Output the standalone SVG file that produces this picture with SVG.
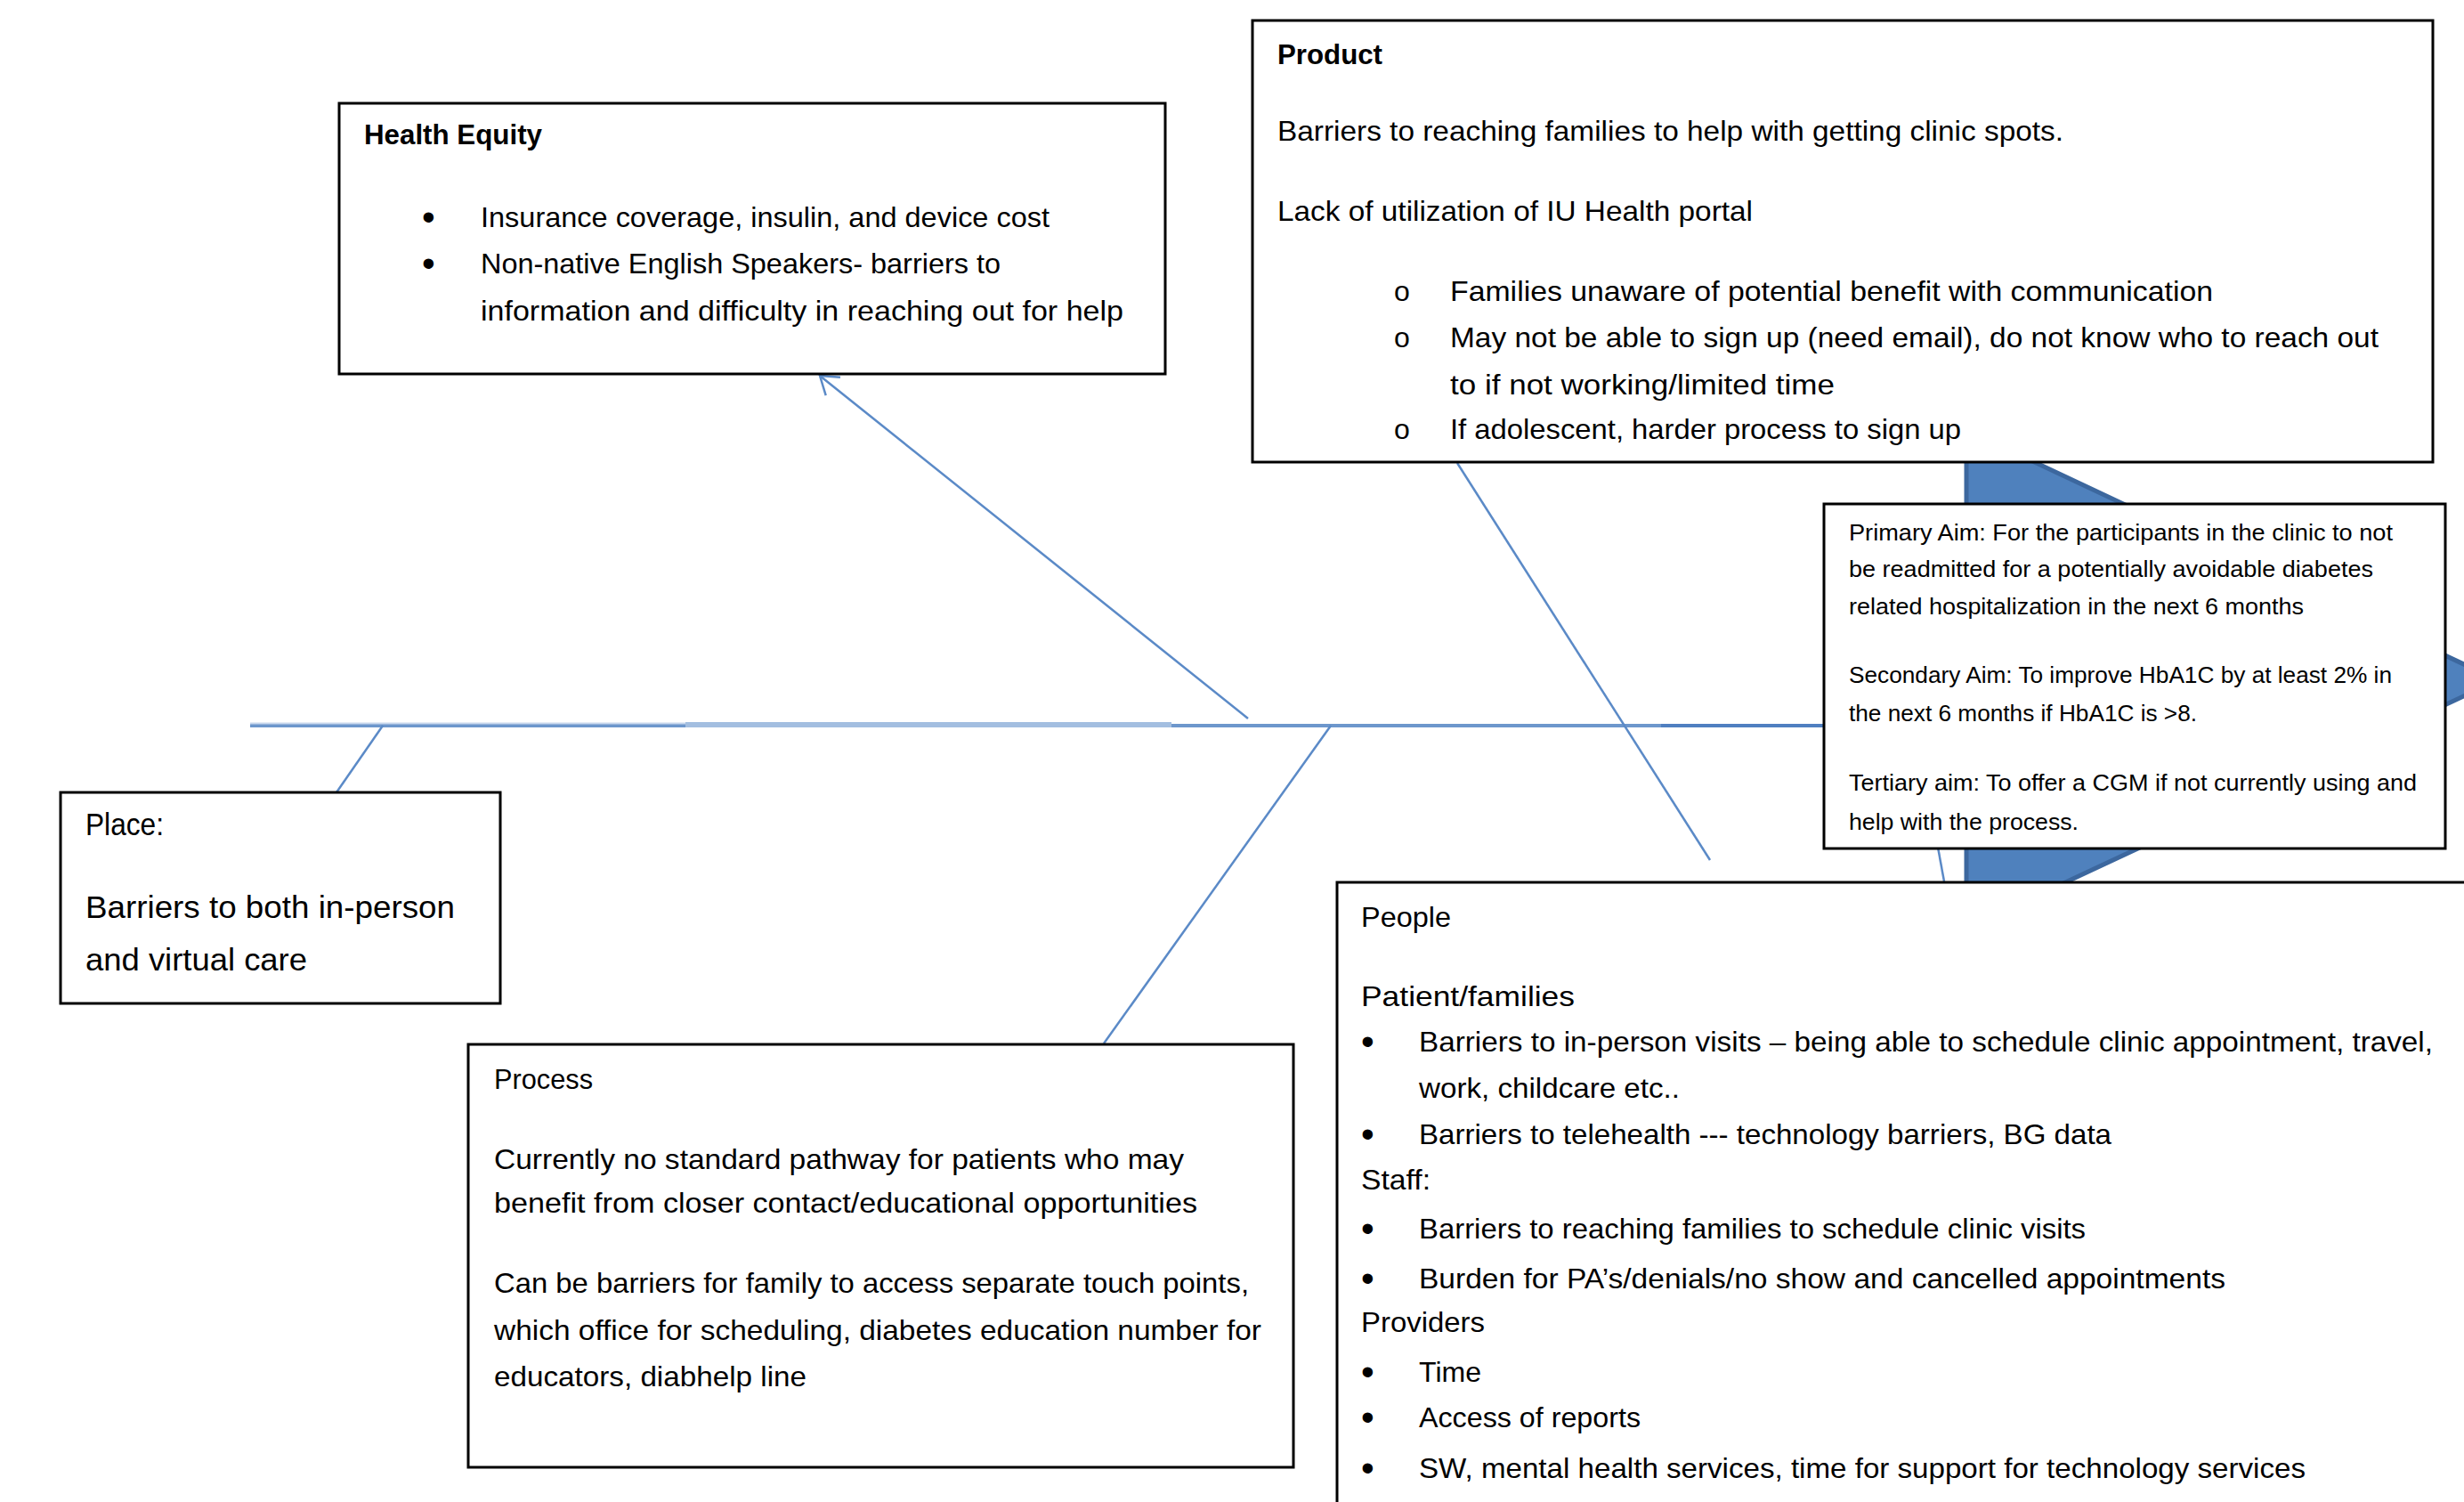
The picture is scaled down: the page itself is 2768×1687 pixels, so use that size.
<svg xmlns="http://www.w3.org/2000/svg" width="2768" height="1687" viewBox="0 0 2768 1687">
<style>
.box{fill:#fff;stroke:#000;stroke-width:3}
.t{font-family:"Liberation Sans",Arial,sans-serif;font-size:32px;fill:#000}
.b{font-weight:bold}
.s{font-size:25px}
.p{font-size:35px}
.bu{font-size:42px}
.rib{stroke:#5b8ac7;stroke-width:2.5;fill:none}
</style>
<defs>
<marker id="open" markerUnits="userSpaceOnUse" markerWidth="40" markerHeight="40" viewBox="-25 -20 30 40" refX="0" refY="0" orient="auto">
<path d="M-19,-13 L0,0 L-19,13" fill="none" stroke="#5b8ac7" stroke-width="2.5"/>
</marker>
</defs>
<rect width="2768" height="1687" fill="#fff"/>

<g id="head">
<polygon points="2209,483 2806,764 2209,1043" fill="#4f81bd" stroke="#3c679e" stroke-width="5"/>
</g>

<g id="connectors">
<line x1="281" y1="815" x2="2049" y2="815" stroke="#6d97cc" stroke-width="4"/>
<line x1="281" y1="812.5" x2="770" y2="812.5" stroke="#c9d8ee" stroke-width="2"/>
<line x1="770" y1="814" x2="1316" y2="814" stroke="#a3bee0" stroke-width="6"/>
<line x1="1866" y1="815" x2="2049" y2="815" stroke="#4f7fc0" stroke-width="4"/>
<line class="rib" x1="1402" y1="807" x2="921" y2="422" marker-end="url(#open)"/>
<line class="rib" x1="1637" y1="520" x2="1921" y2="966"/>
<line class="rib" x1="430" y1="815" x2="378" y2="890"/>
<line class="rib" x1="1495" y1="815" x2="1240" y2="1172"/>
<line class="rib" x1="2152" y1="815" x2="2184" y2="990"/>
</g>

<g id="health-equity">
<rect class="box" x="381" y="116" width="928" height="304"/>
<text class="t b" x="409" y="162" textLength="200" lengthAdjust="spacingAndGlyphs">Health Equity</text>
<text class="t bu" x="474" y="258">•</text>
<text class="t" x="540" y="255" textLength="639" lengthAdjust="spacingAndGlyphs">Insurance coverage, insulin, and device cost</text>
<text class="t bu" x="474" y="310">•</text>
<text class="t" x="540" y="307" textLength="584" lengthAdjust="spacingAndGlyphs">Non-native English Speakers- barriers to</text>
<text class="t" x="540" y="360" textLength="722" lengthAdjust="spacingAndGlyphs">information and difficulty in reaching out for help</text>
</g>

<g id="product">
<rect class="box" x="1407" y="23" width="1326" height="496"/>
<text class="t b" x="1435" y="72" textLength="118" lengthAdjust="spacingAndGlyphs">Product</text>
<text class="t" x="1435" y="158" textLength="883" lengthAdjust="spacingAndGlyphs">Barriers to reaching families to help with getting clinic spots.</text>
<text class="t" x="1435" y="248" textLength="534" lengthAdjust="spacingAndGlyphs">Lack of utilization of IU Health portal</text>
<text class="t" x="1566" y="338">o</text>
<text class="t" x="1629" y="338" textLength="857" lengthAdjust="spacingAndGlyphs">Families unaware of potential benefit with communication</text>
<text class="t" x="1566" y="390">o</text>
<text class="t" x="1629" y="390" textLength="1043" lengthAdjust="spacingAndGlyphs">May not be able to sign up (need email), do not know who to reach out</text>
<text class="t" x="1629" y="443" textLength="432" lengthAdjust="spacingAndGlyphs">to if not working/limited time</text>
<text class="t" x="1566" y="493">o</text>
<text class="t" x="1629" y="493" textLength="574" lengthAdjust="spacingAndGlyphs">If adolescent, harder process to sign up</text>
</g>

<g id="aim">
<rect class="box" x="2049" y="566" width="698" height="387"/>
<text class="t s" x="2077" y="607" textLength="611" lengthAdjust="spacingAndGlyphs">Primary Aim: For the participants in the clinic to not</text>
<text class="t s" x="2077" y="648" textLength="589" lengthAdjust="spacingAndGlyphs">be readmitted for a potentially avoidable diabetes</text>
<text class="t s" x="2077" y="690" textLength="511" lengthAdjust="spacingAndGlyphs">related hospitalization in the next 6 months</text>
<text class="t s" x="2077" y="767" textLength="610" lengthAdjust="spacingAndGlyphs">Secondary Aim: To improve HbA1C by at least 2% in</text>
<text class="t s" x="2077" y="810" textLength="391" lengthAdjust="spacingAndGlyphs">the next 6 months if HbA1C is &gt;8.</text>
<text class="t s" x="2077" y="888" textLength="638" lengthAdjust="spacingAndGlyphs">Tertiary aim: To offer a CGM if not currently using and</text>
<text class="t s" x="2077" y="932" textLength="258" lengthAdjust="spacingAndGlyphs">help with the process.</text>
</g>

<g id="place">
<rect class="box" x="68" y="890" width="494" height="237"/>
<text class="t p" x="96" y="938" textLength="88" lengthAdjust="spacingAndGlyphs">Place:</text>
<text class="t p" x="96" y="1031" textLength="415" lengthAdjust="spacingAndGlyphs">Barriers to both in-person</text>
<text class="t p" x="96" y="1090" textLength="249" lengthAdjust="spacingAndGlyphs">and virtual care</text>
</g>

<g id="process">
<rect class="box" x="526" y="1173" width="927" height="475"/>
<text class="t" x="555" y="1223" textLength="111" lengthAdjust="spacingAndGlyphs">Process</text>
<text class="t" x="555" y="1313" textLength="775" lengthAdjust="spacingAndGlyphs">Currently no standard pathway for patients who may</text>
<text class="t" x="555" y="1362" textLength="790" lengthAdjust="spacingAndGlyphs">benefit from closer contact/educational opportunities</text>
<text class="t" x="555" y="1452" textLength="848" lengthAdjust="spacingAndGlyphs">Can be barriers for family to access separate touch points,</text>
<text class="t" x="555" y="1505" textLength="862" lengthAdjust="spacingAndGlyphs">which office for scheduling, diabetes education number for</text>
<text class="t" x="555" y="1557" textLength="351" lengthAdjust="spacingAndGlyphs">educators, diabhelp line</text>
</g>

<g id="people">
<rect class="box" x="1502" y="991" width="1300" height="720"/>
<text class="t" x="1529" y="1041" textLength="101" lengthAdjust="spacingAndGlyphs">People</text>
<text class="t" x="1529" y="1130" textLength="240" lengthAdjust="spacingAndGlyphs">Patient/families</text>
<text class="t bu" x="1529" y="1184">•</text>
<text class="t" x="1594" y="1181" textLength="1139" lengthAdjust="spacingAndGlyphs">Barriers to in-person visits – being able to schedule clinic appointment, travel,</text>
<text class="t" x="1594" y="1233" textLength="293" lengthAdjust="spacingAndGlyphs">work, childcare etc..</text>
<text class="t bu" x="1529" y="1288">•</text>
<text class="t" x="1594" y="1285" textLength="778" lengthAdjust="spacingAndGlyphs">Barriers to telehealth --- technology barriers, BG data</text>
<text class="t" x="1529" y="1336" textLength="78" lengthAdjust="spacingAndGlyphs">Staff:</text>
<text class="t bu" x="1529" y="1394">•</text>
<text class="t" x="1594" y="1391" textLength="749" lengthAdjust="spacingAndGlyphs">Barriers to reaching families to schedule clinic visits</text>
<text class="t bu" x="1529" y="1450">•</text>
<text class="t" x="1594" y="1447" textLength="906" lengthAdjust="spacingAndGlyphs">Burden for PA’s/denials/no show and cancelled appointments</text>
<text class="t" x="1529" y="1496" textLength="139" lengthAdjust="spacingAndGlyphs">Providers</text>
<text class="t bu" x="1529" y="1555">•</text>
<text class="t" x="1594" y="1552" textLength="70" lengthAdjust="spacingAndGlyphs">Time</text>
<text class="t bu" x="1529" y="1606">•</text>
<text class="t" x="1594" y="1603" textLength="249" lengthAdjust="spacingAndGlyphs">Access of reports</text>
<text class="t bu" x="1529" y="1663">•</text>
<text class="t" x="1594" y="1660" textLength="996" lengthAdjust="spacingAndGlyphs">SW, mental health services, time for support for technology services</text>
</g>
</svg>
